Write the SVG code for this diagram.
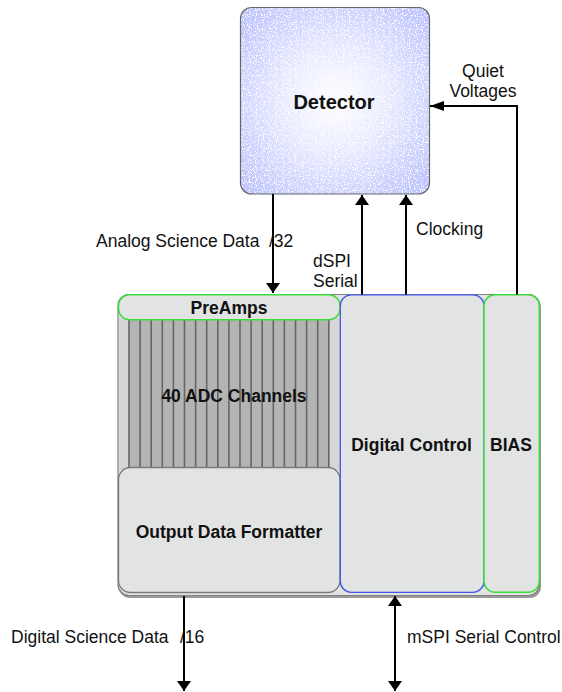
<svg xmlns="http://www.w3.org/2000/svg" width="562" height="692" viewBox="0 0 562 692">
<style>
.lbl{font-family:"Liberation Sans",Arial,sans-serif;font-size:17.5px;fill:#111}
.bold{font-family:"Liberation Sans",Arial,sans-serif;font-size:17.5px;font-weight:bold;fill:#111;text-anchor:middle}
.box{fill:#e2e3e3}
.wire{stroke:#000;stroke-width:2;fill:none}
.stripe{stroke:#666;stroke-width:1.6}
</style>
<defs>
<radialGradient id="detg" cx="50%" cy="50%" r="70%">
<stop offset="0" stop-color="#ffffff"/>
<stop offset="0.4" stop-color="#e8eaff"/>
<stop offset="1" stop-color="#b9c0fd"/>
</radialGradient>
<filter id="speckle" x="0" y="0" width="100%" height="100%">
<feTurbulence type="fractalNoise" baseFrequency="0.85" numOctaves="1" seed="4" result="noise"/>
<feColorMatrix in="noise" type="matrix" values="0 0 0 0 1  0 0 0 0 1  0 0 0 0 1  9 0 0 0 -4.9" result="white"/>
<feComposite in="white" in2="SourceGraphic" operator="in" result="wclip"/>
<feMerge><feMergeNode in="SourceGraphic"/><feMergeNode in="wclip"/></feMerge>
</filter>
<marker id="ah" viewBox="0 0 10 14" refX="10" refY="7" markerWidth="10" markerHeight="14" markerUnits="userSpaceOnUse" orient="auto-start-reverse">
<path d="M0,0 L10,7 L0,14 Z" fill="#000"/>
</marker>
<marker id="ahv" viewBox="0 0 14 10" refX="14" refY="5" markerWidth="14" markerHeight="10" markerUnits="userSpaceOnUse" orient="auto-start-reverse">
<path d="M0,0 L14,5 L0,10 Z" fill="#000"/>
</marker>
</defs>

<g id="detector">
<rect x="240.5" y="7.5" width="189" height="186.5" rx="11" fill="url(#detg)" filter="url(#speckle)"/>
<rect x="240.5" y="7.5" width="189" height="186.5" rx="11" fill="none" stroke="#666" stroke-width="1.2"/>
<text x="334" y="109" class="bold" style="font-size:20px">Detector</text>
</g>

<g id="chip">
<rect x="119" y="296" width="422" height="302" rx="11" fill="#9a9a9a"/>
<rect x="118" y="294.5" width="421.5" height="301" rx="11" class="box" stroke="#808080" stroke-width="1.2"/>
</g>

<g id="adc">
<rect x="119" y="318" width="221" height="152" fill="#d6d6d6"/>
<rect x="129" y="318" width="200.5" height="152" fill="#b4b4b4"/>
<g class="stripe">
<line x1="129" y1="318" x2="129" y2="470"/><line x1="140.1" y1="318" x2="140.1" y2="470"/>
<line x1="151.2" y1="318" x2="151.2" y2="470"/><line x1="162.3" y1="318" x2="162.3" y2="470"/>
<line x1="173.4" y1="318" x2="173.4" y2="470"/><line x1="184.5" y1="318" x2="184.5" y2="470"/>
<line x1="195.6" y1="318" x2="195.6" y2="470"/><line x1="206.7" y1="318" x2="206.7" y2="470"/>
<line x1="217.8" y1="318" x2="217.8" y2="470"/><line x1="228.9" y1="318" x2="228.9" y2="470"/>
<line x1="240" y1="318" x2="240" y2="470"/><line x1="251.1" y1="318" x2="251.1" y2="470"/>
<line x1="262.2" y1="318" x2="262.2" y2="470"/><line x1="273.3" y1="318" x2="273.3" y2="470"/>
<line x1="284.4" y1="318" x2="284.4" y2="470"/><line x1="295.5" y1="318" x2="295.5" y2="470"/>
<line x1="306.6" y1="318" x2="306.6" y2="470"/><line x1="317.7" y1="318" x2="317.7" y2="470"/>
<line x1="328.8" y1="318" x2="328.8" y2="470"/>
</g>
<text x="234" y="402" class="bold">40 ADC Channels</text>
</g>

<g id="preamps">
<rect x="118.5" y="294.8" width="221.5" height="25" rx="11" class="box" stroke="#3ddc3d" stroke-width="1.5"/>
<text x="229" y="314" class="bold">PreAmps</text>
</g>

<g id="formatter">
<rect x="118.5" y="467.5" width="221.5" height="125" rx="12" class="box" stroke="#7a7a7a" stroke-width="1.3"/>
<text x="229" y="538" class="bold">Output Data Formatter</text>
</g>

<g id="digital-control">
<rect x="340.3" y="294.8" width="143.7" height="297.5" rx="11" class="box" stroke="#4455ee" stroke-width="1.3"/>
<text x="411.5" y="451" class="bold">Digital Control</text>
</g>

<g id="bias">
<rect x="484" y="294.8" width="55.3" height="297.5" rx="11" class="box" stroke="#3ddc3d" stroke-width="1.5"/>
<text x="511" y="451" class="bold">BIAS</text>
</g>

<g id="connectors">
<line x1="273" y1="194" x2="273" y2="293" class="wire" marker-end="url(#ah)"/>
<line x1="362" y1="294.5" x2="362" y2="195" class="wire" marker-end="url(#ah)"/>
<line x1="406" y1="294.5" x2="406" y2="195" class="wire" marker-end="url(#ah)"/>
<polyline points="517,294.5 517,106 430,106" class="wire" marker-end="url(#ahv)"/>
<line x1="184" y1="596" x2="184" y2="691" class="wire" marker-end="url(#ah)"/>
<line x1="395" y1="596" x2="395" y2="691" class="wire" marker-start="url(#ah)" marker-end="url(#ah)"/>
</g>

<g id="labels">
<text x="96" y="247" class="lbl">Analog Science Data<tspan x="269">/32</tspan></text>
<text x="313" y="267" class="lbl">dSPI</text>
<text x="313" y="287" class="lbl">Serial</text>
<text x="416" y="235" class="lbl">Clocking</text>
<text x="483" y="77" class="lbl" text-anchor="middle">Quiet</text>
<text x="483" y="97" class="lbl" text-anchor="middle">Voltages</text>
<text x="11" y="643" class="lbl">Digital Science Data<tspan x="180">/16</tspan></text>
<text x="407" y="643" class="lbl">mSPI Serial Control</text>
</g>
</svg>
